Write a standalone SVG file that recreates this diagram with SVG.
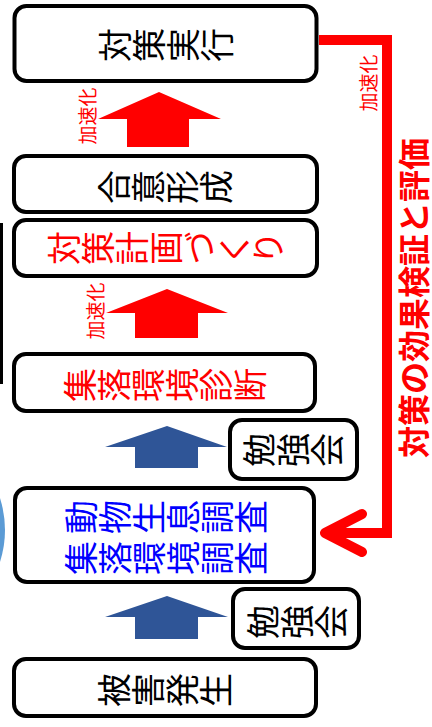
<svg xmlns="http://www.w3.org/2000/svg" width="432" height="727" viewBox="0 0 432 727">
<style>
.box{fill:#fff;stroke:#000;stroke-width:4}
.vt{font-family:"Noto Sans CJK JP","Noto Sans CJK SC",sans-serif;writing-mode:vertical-rl;text-anchor:middle;font-size:34px}
.blk{fill:#000}
.red{fill:#FF0000}
.blu{fill:#0000FF}
.lbl{font-family:"Noto Sans CJK JP","Noto Sans CJK SC",sans-serif;text-anchor:middle;dominant-baseline:central;font-size:19px;fill:#FF0000}
.big{font-family:"Noto Sans CJK JP","Noto Sans CJK SC",sans-serif;text-anchor:middle;dominant-baseline:central;font-size:32px;font-weight:bold;fill:#FF0000}
.ra{fill:#FF0000}
.ba{fill:#2F5597}
</style>
<rect x="0" y="0" width="432" height="727" fill="#fff"/>
<line x1="1.5" y1="223" x2="1.5" y2="384" stroke="#000" stroke-width="3"/>
<path d="M0,498 Q10,530 0,562 Z" fill="#5B9BD5"/>
<g id="connectors">
  <path class="ra" d="M159,92 L221,119 L189,119 L189,147 L127,147 L127,119 L98,119 Z"/>
  <text class="lbl" x="86" y="116" transform="rotate(-90 86 116)">加速化</text>
  <path class="ra" d="M167,289 L228,313 L198,313 L198,338 L135,338 L135,313 L106,313 Z"/>
  <text class="lbl" x="94" y="311" transform="rotate(-90 94 311)">加速化</text>
  <path class="ba" d="M167,426 L227,447 L198,447 L198,468 L135,468 L135,447 L105,447 Z"/>
  <path class="ba" d="M167,596 L228,617 L198,617 L198,639 L135,639 L135,617 L105,617 Z"/>
  <path d="M319,40 H387 V533 H326" fill="none" stroke="#FF0000" stroke-width="10" stroke-linejoin="miter"/>
  <path d="M362,514 L325,533 L362,552" fill="none" stroke="#FF0000" stroke-width="10" stroke-linecap="round" stroke-linejoin="round"/>
  <text class="lbl" x="367" y="83" transform="rotate(-90 367 83)">加速化</text>
  <text class="big" x="412" y="298" transform="rotate(-90 412 298)">対策の効果検証と評価</text>
</g>
<g id="node-jikkou">
  <rect class="box" x="14.5" y="6" width="302" height="75" rx="12"/>
  <text class="vt blk" x="166" y="45" transform="rotate(-90 166 45)">対策実行</text>
</g>
<g id="node-goui">
  <rect class="box" x="14" y="156" width="303" height="56" rx="12"/>
  <text class="vt blk" x="165" y="187" transform="rotate(-90 165 187)">合意形成</text>
</g>
<g id="node-keikaku">
  <rect class="box" x="14" y="220" width="303" height="56" rx="12"/>
  <text class="vt red" x="166" y="248" transform="rotate(-90 166 248)">対策計画づくり</text>
</g>
<g id="node-shindan">
  <rect class="box" x="14" y="354" width="301" height="57" rx="12"/>
  <text class="vt red" x="165" y="385" transform="rotate(-90 165 385)">集落環境診断</text>
</g>
<g id="node-benkyo1">
  <rect class="box" x="230" y="420" width="127" height="59" rx="12"/>
  <text class="vt blk" x="293" y="450" transform="rotate(-90 293 450)">勉強会</text>
</g>
<g id="node-chousa">
  <rect class="box" x="15" y="488" width="299" height="94" rx="12"/>
  <text class="vt blu" x="166" y="517" transform="rotate(-90 166 517)">動物生息調査</text>
  <text class="vt blu" x="166" y="558" transform="rotate(-90 166 558)">集落環境調査</text>
</g>
<g id="node-benkyo2">
  <rect class="box" x="233" y="589" width="126" height="59" rx="12"/>
  <text class="vt blk" x="297" y="622" transform="rotate(-90 297 622)">勉強会</text>
</g>
<g id="node-higai">
  <rect class="box" x="14" y="659" width="302" height="57" rx="12"/>
  <text class="vt blk" x="165" y="690" transform="rotate(-90 165 690)">被害発生</text>
</g>
</svg>
